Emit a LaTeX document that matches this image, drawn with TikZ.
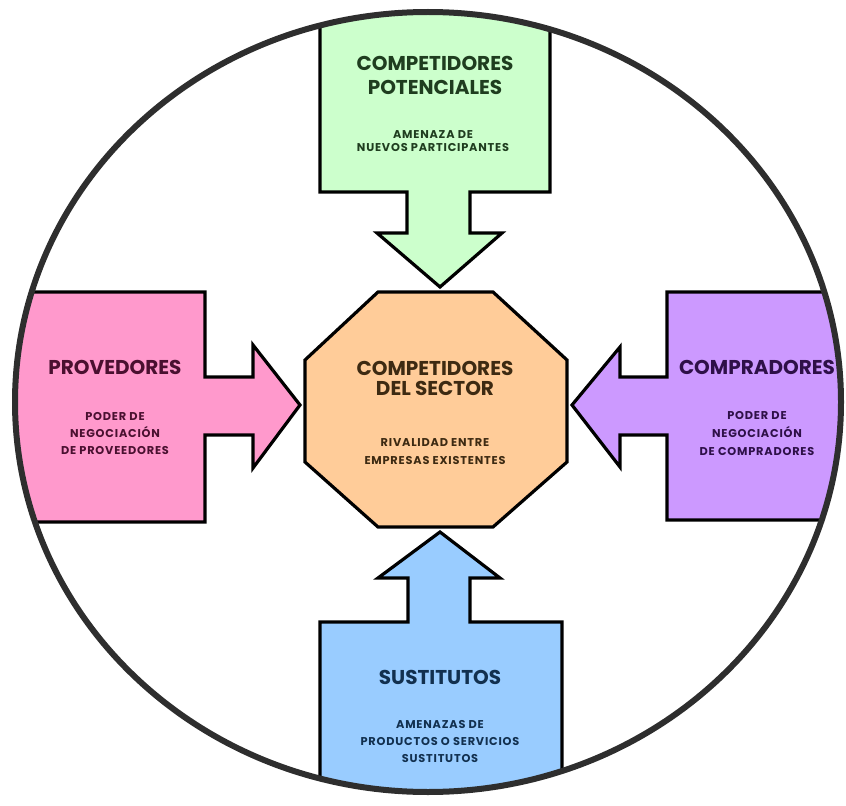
\documentclass[tikz,border=0pt]{standalone}
\usepackage{fontspec}
\setmainfont{Poppins}
\newfontfamily\subFont{Poppins}[LetterSpace=7]
\usepackage{tikz}
\usetikzlibrary{calc}

\definecolor{potFill}{HTML}{CCFFCC}
\definecolor{potText}{HTML}{1F3D1F}
\definecolor{provFill}{HTML}{FF99CC}
\definecolor{provText}{HTML}{4A1030}
\definecolor{sectFill}{HTML}{FFCC99}
\definecolor{sectText}{HTML}{3D2A12}
\definecolor{compFill}{HTML}{CC99FF}
\definecolor{compText}{HTML}{2E1048}
\definecolor{sustFill}{HTML}{99CCFF}
\definecolor{sustText}{HTML}{12304F}
\definecolor{ringColor}{HTML}{2E2E2E}

\begin{document}
\begin{tikzpicture}[x=0.75pt, y=-0.75pt]
	\def\cx{428};
	\def\cy{402};
	\def\rx{413};
	\def\ry{390};

	\tikzset{
		forceShape/.style={draw=black, line width=2.4pt, line join=miter},
		titleText/.style={font=\bfseries\fontsize{15}{18}\selectfont, align=center},
		subText/.style={font=\subFont\bfseries\fontsize{8.5}{13}\selectfont, align=center}
	}

	\useasboundingbox (0,0) rectangle (846,806);

	% the four forces, cut by the ring
	\begin{scope}
		\clip (\cx,\cy) ellipse [x radius=\rx, y radius=\ry];
		\filldraw [forceShape, fill=potFill] (320,-20) -- (550,-20) -- (550,192) -- (470,192) -- (470,233) -- (502,233) -- (440,287) -- (377,233) -- (407,233) -- (407,192) -- (320,192) -- cycle;
		\filldraw [forceShape, fill=provFill] (-20,292) -- (205,292) -- (205,377) -- (253,377) -- (253,345) -- (300,405) -- (253,468) -- (253,435) -- (205,435) -- (205,522) -- (-20,522) -- cycle;
		\filldraw [forceShape, fill=compFill] (870,292) -- (667,292) -- (667,377) -- (620,377) -- (620,347) -- (572,405) -- (620,467) -- (620,435) -- (667,435) -- (667,520) -- (870,520) -- cycle;
		\filldraw [forceShape, fill=sustFill] (320,830) -- (320,622) -- (408,622) -- (408,578) -- (378,578) -- (440,532) -- (500,578) -- (470,578) -- (470,622) -- (562,622) -- (562,830) -- cycle;
	\end{scope}

	\draw [line width=4.5pt, draw=ringColor] (\cx,\cy) ellipse [x radius=\rx, y radius=\ry];

	% sector rivalry
	\filldraw [forceShape, fill=sectFill] (378,292) -- (493,292) -- (567,360) -- (567,462) -- (493,527) -- (378,527) -- (305,462) -- (305,360) -- cycle;

	\begin{scope}[text=potText]
		\node [titleText] (potTitle) at (435,75.5) {COMPETIDORES\\POTENCIALES};
		\node [subText, font=\subFont\bfseries\fontsize{8.5}{9.5}\selectfont] (potSub) at (433,141) {AMENAZA DE\\NUEVOS PARTICIPANTES};
	\end{scope}

	\begin{scope}[text=provText]
		\node [titleText] (provTitle) at (115,367) {PROVEDORES};
		\node [subText] (provSub) at (115,433.5) {PODER DE\\NEGOCIACIÓN\\DE PROVEEDORES};
	\end{scope}

	\begin{scope}[text=sectText]
		\node [titleText, font=\bfseries\fontsize{15}{15}\selectfont] (sectTitle) at (435,378) {COMPETIDORES\\DEL SECTOR};
		\node [subText] (sectSub) at (435,451.5) {RIVALIDAD ENTRE\\EMPRESAS EXISTENTES};
	\end{scope}

	\begin{scope}[text=compText]
		\node [titleText] (compTitle) at (757,367) {COMPRADORES};
		\node [subText, font=\subFont\bfseries\fontsize{8.5}{13.5}\selectfont] (compSub) at (757,433.5) {PODER DE\\NEGOCIACIÓN\\DE COMPRADORES};
	\end{scope}

	\begin{scope}[text=sustText]
		\node [titleText] (sustTitle) at (440,677) {SUSTITUTOS};
		\node [subText] (sustSub) at (440,741.5) {AMENAZAS DE\\PRODUCTOS O SERVICIOS\\SUSTITUTOS};
	\end{scope}
\end{tikzpicture}
\end{document}
